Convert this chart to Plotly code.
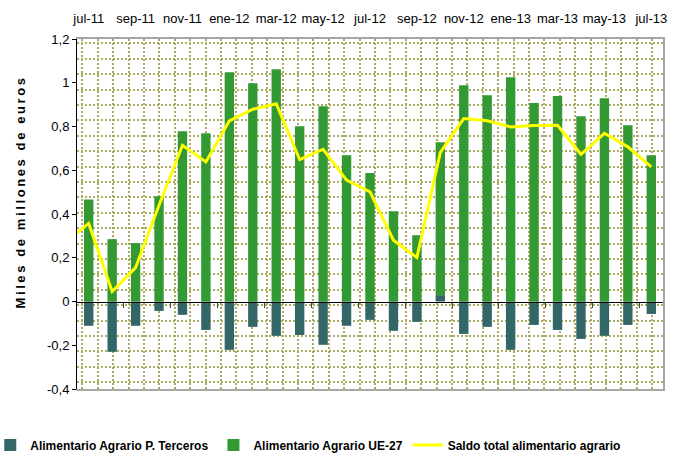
import plotly.graph_objects as go

# Monthly data, jul-11 .. jul-13 (miles de millones de euros)
months = ["jul-11", "ago-11", "sep-11", "oct-11", "nov-11", "dic-11",
          "ene-12", "feb-12", "mar-12", "abr-12", "may-12", "jun-12",
          "jul-12", "ago-12", "sep-12", "oct-12", "nov-12", "dic-12",
          "ene-13", "feb-13", "mar-13", "abr-13", "may-13", "jun-13", "jul-13"]

terceros = [-0.111, -0.230, -0.111, -0.043, -0.061, -0.130, -0.221, -0.116,
            -0.157, -0.153, -0.198, -0.111, -0.084, -0.134, -0.093, 0.029,
            -0.148, -0.116, -0.221, -0.107, -0.130, -0.171, -0.157, -0.107, -0.057]

ue27 = [0.466, 0.285, 0.267, 0.481, 0.778, 0.769, 1.048, 0.998, 1.062, 0.801,
        0.893, 0.669, 0.587, 0.413, 0.303, 0.699, 0.989, 0.943, 1.025, 0.907,
        0.939, 0.847, 0.929, 0.806, 0.669]

saldo = [0.357, 0.046, 0.155, 0.440, 0.714, 0.638, 0.826, 0.879, 0.904, 0.649,
         0.696, 0.555, 0.501, 0.280, 0.201, 0.682, 0.836, 0.826, 0.798, 0.805,
         0.806, 0.673, 0.769, 0.707, 0.615]
saldo_prev = 0.27  # jun-11, lies just left of the visible range

ytick_vals = [-0.4, -0.2, 0, 0.2, 0.4, 0.6, 0.8, 1, 1.2]
ytick_text = ["-0,4", "-0,2", "0", "0,2", "0,4", "0,6", "0,8", "1", "1,2"]

FONT = "Liberation Sans, Arial, sans-serif"
TEAL = "#336666"
GREEN = "#339933"
YELLOW = "#ffff00"
DOTS = "#abab62"

idx = list(range(len(months)))
xrange_ = [-0.5, len(months) - 0.5]

fig = go.Figure()
fig.add_trace(go.Bar(x=idx, y=terceros, name="Alimentario Agrario P. Terceros",
                     marker=dict(color=TEAL, line_width=0), width=0.4))
fig.add_trace(go.Bar(x=idx, y=ue27, name="Alimentario Agrario UE-27",
                     marker=dict(color=GREEN, line_width=0), width=0.4))
fig.add_trace(go.Scatter(x=[-1] + idx, y=[saldo_prev] + saldo,
                         name="Saldo total alimentario agrario", mode="lines",
                         line=dict(color=YELLOW, width=3), xaxis="x2"))
# empty trace so the background pattern axes get drawn
fig.add_trace(go.Scatter(x=[], y=[], xaxis="x3", yaxis="y3",
                         showlegend=False, hoverinfo="skip"))

ylabel = "\u2009".join("Miles de millones de euros")

fig.update_layout(
    width=680, height=461,
    margin=dict(l=77, r=17, t=39, b=72, autoexpand=False),
    paper_bgcolor="white", plot_bgcolor="white",
    barmode="relative",
    font=dict(family=FONT, size=13, color="black"),
    showlegend=True,
    legend=dict(orientation="h", x=-0.148, xanchor="left", y=-0.16, yanchor="middle",
                font=dict(family=FONT, size=12, weight="bold"),
                itemwidth=30, traceorder="normal"),
    # zero line with category tick marks
    xaxis=dict(range=xrange_, anchor="free", position=0.25,
               showline=True, linecolor="black", linewidth=1,
               ticks="outside", ticklen=5, tickcolor="#444",
               tickvals=[i + 0.5 for i in idx[1:-1:2]],
               showticklabels=False, showgrid=False, zeroline=False),
    # month labels on top
    xaxis2=dict(range=xrange_, overlaying="x", side="top", anchor="y",
                tickvals=idx[::2], ticktext=months[::2], tickangle=0,
                ticks="outside", ticklen=10, tickcolor="rgba(0,0,0,0)",
                showline=False, showgrid=False, zeroline=False),
    yaxis=dict(range=[-0.4, 1.2], domain=[0, 1],
               tickvals=ytick_vals, ticktext=ytick_text,
               ticks="outside", ticklen=4, tickcolor="black",
               showline=True, linecolor="black", linewidth=1,
               showgrid=False, zeroline=False),
    # dotted pattern fill of the plot area + grey frame
    xaxis3=dict(range=[0, 586], overlaying="x", anchor="y3",
                tick0=5.3, dtick=15.4, showticklabels=False, ticks="",
                showgrid=True, gridcolor=DOTS, gridwidth=2, griddash="2px,2px",
                showline=True, linecolor="#a6a6a6", linewidth=2, mirror=True,
                zeroline=False),
    yaxis3=dict(range=[350, 0], overlaying="y", anchor="x3", side="right",
                tick0=4.3, dtick=15.4, showticklabels=False, ticks="",
                showgrid=True, gridcolor=DOTS, gridwidth=2, griddash="2px,2px",
                showline=True, linecolor="#a6a6a6", linewidth=2,
                zeroline=False),
    annotations=[dict(text=ylabel, textangle=-90, xref="paper", yref="paper",
                      x=-0.097, y=0.559, xanchor="center", yanchor="middle",
                      showarrow=False, font=dict(family=FONT, size=13, weight="bold"))],
)

# drop the default 8px body margin so the figure sits at the window origin
fig.write_html("out.html", config={"displayModeBar": False},
               post_script="document.body.style.margin='0';")
